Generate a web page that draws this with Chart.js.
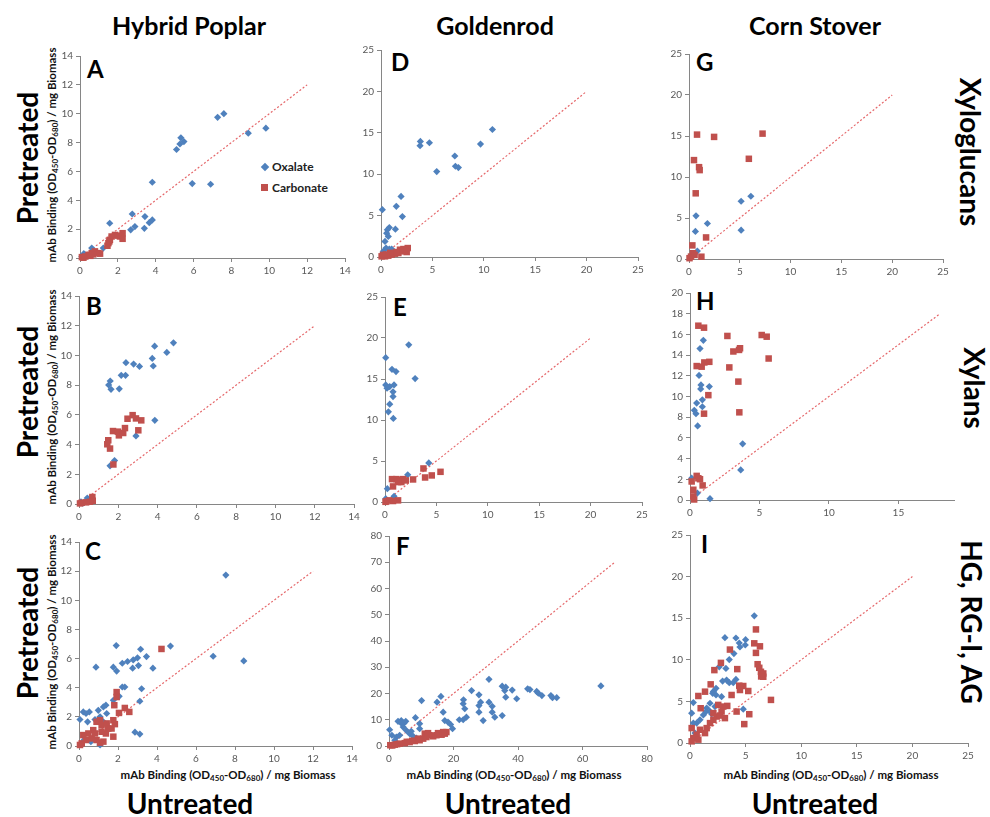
<!DOCTYPE html>
<html>
<head>
<meta charset="utf-8">
<script src="https://cdn.jsdelivr.net/npm/chart.js@4.4.1/dist/chart.umd.min.js"></script>
<style>
  body { margin: 0; background: #fff; }
  #page { position: relative; width: 990px; height: 817px; overflow: hidden; font-family: Lato, 'Open Sans', sans-serif; color: #000; }
  #page canvas { position: absolute; }
  .lbl { position: absolute; font-weight: bold; white-space: nowrap; transform: translate(-50%, -50%); line-height: 1; }
  .head { font-size: 25px; }
  .side { font-size: 28px; }
  .rotL { transform: translate(-50%, -50%) rotate(-90deg); }
  .rotR { transform: translate(-50%, -50%) rotate(90deg); }
  .axt { font-size: 11.5px; color: #111; }
  .axt sub { font-size: 8px; vertical-align: -2px; line-height: 0; }
  .letter { position: absolute; font-weight: bold; font-size: 24px; line-height: 1; }
  .leg { position: absolute; font-size: 12px; font-weight: bold; color: #222; line-height: 1; transform: translateY(-50%); }
  .mk { position: absolute; }
</style>
</head>
<body>
<div id="page">
  <div class="lbl head" style="left:189px; top:25px">Hybrid Poplar</div>
  <div class="lbl head" style="left:495px; top:25px">Goldenrod</div>
  <div class="lbl head" style="left:815px; top:25px">Corn Stover</div>

  <div class="lbl side rotL" style="left:27px; top:158px">Pretreated</div>
  <div class="lbl side rotL" style="left:27px; top:392px">Pretreated</div>
  <div class="lbl side rotL" style="left:27px; top:633px">Pretreated</div>

  <div class="lbl side" style="left:190px; top:803px">Untreated</div>
  <div class="lbl side" style="left:508px; top:803px">Untreated</div>
  <div class="lbl side" style="left:815px; top:803px">Untreated</div>

  <div class="lbl side rotR" style="left:971px; top:152px">Xyloglucans</div>
  <div class="lbl side rotR" style="left:975px; top:388px">Xylans</div>
  <div class="lbl side rotR" style="left:972px; top:622px">HG, RG-I, AG</div>

  <div class="lbl axt rotL" style="left:52px; top:155px">mAb Binding (OD<sub>450</sub>-OD<sub>680</sub>) / mg Biomass</div>
  <div class="lbl axt rotL" style="left:52px; top:397px">mAb Binding (OD<sub>450</sub>-OD<sub>680</sub>) / mg Biomass</div>
  <div class="lbl axt rotL" style="left:52px; top:642px">mAb Binding (OD<sub>450</sub>-OD<sub>680</sub>) / mg Biomass</div>

  <div class="lbl axt" style="left:228px; top:775px">mAb Binding (OD<sub>450</sub>-OD<sub>680</sub>) / mg Biomass</div>
  <div class="lbl axt" style="left:514px; top:775px">mAb Binding (OD<sub>450</sub>-OD<sub>680</sub>) / mg Biomass</div>
  <div class="lbl axt" style="left:831px; top:775px">mAb Binding (OD<sub>450</sub>-OD<sub>680</sub>) / mg Biomass</div>

  <div class="letter" style="left:87px; top:57px">A</div>
  <div class="letter" style="left:86px; top:294px">B</div>
  <div class="letter" style="left:85px; top:539px">C</div>
  <div class="letter" style="left:391px; top:50px">D</div>
  <div class="letter" style="left:393px; top:295px">E</div>
  <div class="letter" style="left:396px; top:534px">F</div>
  <div class="letter" style="left:696px; top:50px">G</div>
  <div class="letter" style="left:696px; top:289px">H</div>
  <div class="letter" style="left:701px; top:532px">I</div>

  <div class="mk" style="left:262px; top:164px; width:6px; height:6px; background:#4F81BD; transform:rotate(45deg)"></div>
  <div class="leg" style="left:272px; top:167px">Oxalate</div>
  <div class="mk" style="left:261px; top:184px; width:7px; height:7px; background:#C0504D"></div>
  <div class="leg" style="left:272px; top:188px">Carbonate</div>
</div>
<script>
// Hybrid Poplar
const oxalateA = [[7.27,9.75],[7.6,10.0],[8.89,8.65],[9.82,9.0],[5.1,7.52],[5.28,7.9],[5.33,8.33],[5.49,8.07],
  [5.93,5.16],[6.9,5.11],[3.82,5.25],[1.57,2.41],[2.76,3.05],[2.9,2.18],[2.68,1.95],[3.43,2.87],[3.4,2.06],
  [3.66,2.45],[3.82,2.64],[1.23,0.69],[0.62,0.69],[0.2,0.3],[0.3,0.2],[0.45,0.15],[0.1,0.1]]
const carbonateA = [[1.58,1.26],[1.5,1.03],[1.85,1.6],[2.11,1.49],[2.25,1.72],[2.25,1.33],[1.67,1.49],[1.45,0.85],
  [0.79,0.46],[0.97,0.34],[1.06,0.3],[0.62,0.34],[0.45,0.22],[0.27,0.1],[0.1,0.06],[0.18,0.02],[0.55,0.15],
  [0.7,0.25],[2.0,1.55],[1.55,1.15]]
const oxalateB = [[4.81,10.85],[3.85,10.62],[4.47,10.2],[3.73,9.8],[3.78,9.29],[2.39,9.51],[2.78,9.42],[3.08,9.26],
  [2.15,8.66],[2.37,8.66],[1.59,8.28],[1.51,8.01],[1.63,7.72],[2.05,7.75],[3.86,5.63],[2.9,4.58],[1.81,2.92],
  [1.58,2.57],[0.42,0.4],[0.1,0.15],[0.2,0.05]]
const carbonateB = [[1.49,4.29],[1.44,4.02],[1.58,3.73],[1.73,4.91],[1.98,4.87],[2.03,4.62],[2.25,4.78],[2.34,5.11],
  [2.47,5.74],[2.73,5.98],[2.9,5.76],[3.17,5.63],[3.02,4.96],[1.75,2.66],[0.68,0.47],[0.7,0.22],[0.56,0.15],
  [0.36,0.11],[0.14,0.09],[0.05,0.04]]
const oxalateC = [[7.53,11.73],[1.91,6.89],[4.69,6.86],[3.16,6.64],[6.88,6.16],[8.45,5.84],[3.46,6.14],[3.0,6.05],
  [2.78,5.91],[2.49,5.8],[2.22,5.68],[1.76,5.41],[1.93,5.14],[0.87,5.41],[3.05,5.52],[2.75,5.34],[3.79,5.34],
  [2.22,4.05],[2.35,4.05],[3.21,3.93],[2.06,3.41],[1.76,3.14],[3.12,3.07],[1.38,2.8],[1.25,2.68],[0.99,2.45],
  [0.53,2.34],[0.22,2.34],[0.36,2.23],[0.05,1.82],[0.44,1.66],[0.82,1.82],[1.25,1.66],[2.87,0.95],[3.12,0.82],
  [1.08,0.07],[0.61,0.3],[0.25,0.4],[1.42,2.23],[1.08,2.0]]
const carbonateC = [[4.23,6.66],[1.93,3.7],[1.93,3.36],[1.81,2.8],[2.05,2.27],[2.35,2.61],[2.58,2.34],[1.76,1.77],
  [1.84,1.5],[1.67,1.2],[1.76,0.64],[1.38,0.86],[1.08,1.77],[0.9,1.66],[1.16,1.43],[1.42,1.55],[0.73,1.09],
  [0.48,0.86],[0.22,0.75],[0.36,0.41],[0.65,0.52],[0.9,0.41],[1.08,0.23],[1.25,0.3],[0.14,0.18],[0.05,0.07],
  [0.82,0.86],[1.16,0.98],[1.5,1.2]]

// Goldenrod
const oxalateD = [[10.84,15.4],[3.83,13.96],[3.8,13.44],[4.71,13.8],[9.68,13.64],[7.18,12.2],[7.24,10.96],[7.53,10.8],
  [5.42,10.32],[1.95,7.32],[1.49,6.12],[2.08,4.88],[0.13,5.72],[0.81,3.56],[0.62,3.28],[1.4,3.36],[0.55,2.88],
  [0.71,2.48],[0.39,1.88],[0.49,1.08],[0.81,0.96],[1.04,0.96],[0.23,0.68]]
const carbonateD = [[2.6,1.08],[2.34,0.8],[2.01,0.68],[1.69,0.48],[1.36,0.4],[1.04,0.28],[0.71,0.16],[0.39,0.08],
  [0.06,0.08],[0.2,0.25],[2.5,0.6],[2.18,0.96],[1.85,0.88],[1.5,0.6],[0.9,0.5],[0.5,0.3]]
const oxalateE = [[2.31,19.17],[0.07,17.6],[0.68,16.18],[1.07,15.9],[2.93,15.05],[0.07,14.28],[0.88,14.28],[0.46,14.08],
  [0.2,13.88],[0.78,13.43],[0.78,12.86],[0.46,11.93],[0.33,11.0],[0.81,10.19],[4.26,4.77],[2.21,3.32],[0.23,1.62],
  [0.88,0.69],[0.07,0.4]]
const carbonateE = [[3.74,4.09],[5.4,3.68],[4.55,3.24],[3.9,2.99],[2.73,2.75],[0.78,1.9],[0.68,2.79],[1.1,2.79],
  [1.43,2.71],[1.76,2.79],[1.59,2.43],[2.02,2.63],[1.27,2.43],[1.27,0.2],[0.78,0.12],[0.4,0.2],[0.14,0.08],[0.05,0.02]]
const oxalateF = [[65.7,22.9],[31.0,25.4],[35.1,22.8],[36.2,22.4],[35.9,21.1],[38.2,21.3],[43.0,21.8],[43.7,21.5],
  [45.8,20.8],[46.3,20.1],[47.4,19.2],[50.2,19.2],[50.7,18.4],[52.0,18.4],[39.6,18.0],[36.2,18.6],[31.0,16.7],
  [32.0,15.1],[27.9,19.5],[28.4,16.7],[27.9,15.4],[27.9,12.9],[25.6,21.1],[23.1,17.6],[23.0,16.1],[23.5,14.2],
  [24.0,11.0],[23.0,10.0],[21.8,10.0],[29.2,9.7],[32.0,12.9],[32.8,11.0],[35.1,11.6],[16.1,18.9],[14.9,16.7],
  [16.8,12.9],[17.3,9.7],[18.3,9.1],[19.1,8.2],[19.7,6.6],[10.1,17.3],[8.2,10.8],[9.5,8.5],[9.5,6.6],[6.9,5.6],
  [2.8,9.4],[3.8,9.7],[4.6,8.7],[5.2,9.4],[3.8,8.7],[4.4,7.2],[5.4,5.9],[0.2,6.2],[0.9,4.1],[2.3,3.4],[3.3,4.1],
  [6.4,4.7],[7.5,3.7],[1.8,2.2],[8.5,3.0]]
const carbonateF = [[17.8,5.3],[17.3,4.7],[16.3,4.3],[14.7,4.1],[13.7,3.7],[12.6,4.1],[11.6,3.4],[10.6,2.8],[9.5,2.2],
  [8.0,1.9],[6.4,1.5],[4.9,1.1],[3.3,0.9],[1.8,0.5],[0.4,0.3],[11.1,4.7],[12.1,4.9],[15.2,4.9],[16.8,5.3],
  [9.0,2.8],[7.2,2.0],[5.5,1.6],[2.5,0.7],[1.0,0.2]]

// Corn Stover
const oxalateG = [[6.09,7.65],[5.13,7.04],[5.13,3.52],[0.69,5.26],[0.63,3.36],[1.81,4.33],[0.82,0.97],[0.2,0.3]]
const carbonateG = [[7.24,15.29],[0.79,15.17],[2.47,14.89],[5.89,12.22],[0.49,12.06],[0.99,11.2],[1.05,10.84],
  [0.66,8.01],[1.68,2.63],[0.33,1.66],[1.22,0.28],[0.4,0.7],[0.2,0.3],[0.05,0.1],[0.55,0.5]]
const oxalateH = [[0.96,15.43],[0.72,14.63],[0.65,12.04],[0.79,11.12],[0.77,10.73],[1.39,10.96],[0.89,9.68],
  [0.48,9.36],[0.89,9.01],[0.31,8.66],[0.43,8.34],[0.55,7.16],[3.79,5.43],[3.65,2.91],[1.44,0.13],[0.12,2.11],
  [0.53,0.67]]
const carbonateH = [[0.6,16.84],[1.01,16.65],[2.69,15.85],[5.16,15.94],[5.52,15.78],[3.6,14.66],[3.12,14.35],
  [3.53,14.5],[5.66,13.67],[0.48,12.94],[0.84,12.88],[1.03,13.29],[1.39,13.35],[2.83,12.81],[3.48,11.44],
  [1.32,10.13],[1.01,8.34],[3.55,8.47],[0.48,2.33],[0.72,2.01],[0.12,1.79],[0.91,1.41],[0.24,0.99],[0.24,0.35],
  [0.3,0.05],[0.6,2.1]]
const oxalateI = [[5.78,15.29],[3.14,12.66],[4.13,12.62],[5.0,12.42],[4.43,12.02],[4.49,11.54],[4.97,11.78],
  [3.95,10.75],[3.53,10.03],[3.23,8.96],[2.63,9.16],[2.04,5.97],[3.29,7.56],[2.93,7.44],[3.53,7.25],[3.89,7.25],
  [4.13,7.64],[2.34,5.77],[2.34,6.57],[2.1,6.2],[1.8,4.78],[2.25,4.38],[1.44,3.78],[1.8,3.8],[1.2,3.38],[0.9,2.79],
  [0.6,2.39],[0.3,4.86],[0.15,3.58],[0.3,2.39],[4.79,4.06],[0.45,1.19],[1.5,4.2],[2.84,5.57],[1.95,3.5]]
const carbonateI = [[5.93,13.65],[6.29,11.62],[5.78,11.98],[5.93,10.83],[6.08,9.47],[6.23,9.04],[6.38,8.56],
  [6.59,8.36],[6.59,7.96],[6.4,8.0],[7.28,5.18],[3.59,11.23],[2.19,8.76],[2.78,9.63],[4.25,8.88],[1.86,7.05],
  [1.35,6.17],[0.75,5.65],[0.96,4.18],[3.74,5.77],[4.43,6.89],[4.79,6.85],[5.24,6.25],[4.49,6.37],[4.19,3.78],
  [4.88,2.27],[5.33,3.46],[2.54,4.58],[2.99,4.38],[3.35,4.46],[2.84,3.78],[2.4,3.18],[2.1,2.79],[1.8,2.39],
  [1.5,1.79],[1.35,1.19],[0.9,1.59],[0.6,1.0],[0.15,1.79],[0.3,0.6],[0.15,0.2],[0.75,0.4],[3.14,2.99],[2.7,3.3],
  [2.1,3.6]]

// axis ranges [xMax, xStep, yMax, yStep] and length of the y = x reference line
const axesA = [14, 2, 14, 2], diagA = 12
const axesB = [14, 2, 14, 2], diagB = 12
const axesC = [14, 2, 14, 2], diagC = 12
const axesD = [25, 5, 25, 5], diagD = 20
const axesE = [25, 5, 25, 5], diagE = 20
const axesF = [80, 20, 80, 10], diagF = 70
const axesG = [25, 5, 25, 5], diagG = 20
const axesH = [19, 5, 20, 2], diagH = 18
const axesI = [25, 5, 25, 5], diagI = 20

// plot boxes on the page: [left, top, right, bottom]
const panels = [
  { ox: oxalateA, ca: carbonateA, axes: axesA, diag: diagA, box: [80, 55, 345, 258] },
  { ox: oxalateB, ca: carbonateB, axes: axesB, diag: diagB, box: [79, 295, 354, 504] },
  { ox: oxalateC, ca: carbonateC, axes: axesC, diag: diagC, box: [79, 541, 352, 746] },
  { ox: oxalateD, ca: carbonateD, axes: axesD, diag: diagD, box: [381, 49, 638, 257] },
  { ox: oxalateE, ca: carbonateE, axes: axesE, diag: diagE, box: [385, 296, 642, 502] },
  { ox: oxalateF, ca: carbonateF, axes: axesF, diag: diagF, box: [389, 535, 647, 746] },
  { ox: oxalateG, ca: carbonateG, axes: axesG, diag: diagG, box: [689, 53, 943, 259] },
  { ox: oxalateH, ca: carbonateH, axes: axesH, diag: diagH, box: [690, 292, 954, 500] },
  { ox: oxalateI, ca: carbonateI, axes: axesI, diag: diagI, box: [690, 534, 968, 743] }
]

const padL = 30, padT = 8, padR = 14, padB = 20
const toPts = arr => arr.map(([x, y]) => ({ x, y }))

function axis(max, step, fit) {
  return {
    type: 'linear',
    min: 0,
    max: max,
    afterFit: fit,
    ticks: { stepSize: step, includeBounds: false, autoSkip: false, maxRotation: 0, padding: 3,
      color: '#595959', font: { family: 'Lato', size: 10 } },
    grid: { drawOnChartArea: false, drawTicks: true, tickLength: 4, color: '#868686' },
    border: { color: '#868686' }
  }
}

function makeChart(p) {
  const [left, top, right, bottom] = p.box
  const canvas = document.createElement('canvas')
  canvas.width = right - left + padL + padR
  canvas.height = bottom - top + padT + padB
  canvas.style.left = (left - padL) + 'px'
  canvas.style.top = (top - padT) + 'px'
  document.getElementById('page').appendChild(canvas)

  const [xMax, xStep, yMax, yStep] = p.axes
  new Chart(canvas, {
    type: 'scatter',
    data: {
      datasets: [
        { label: 'Carbonate', data: toPts(p.ca), pointStyle: 'rect', pointRadius: 4.6,
          backgroundColor: '#C0504D', borderColor: '#C0504D', borderWidth: 0, order: 0, clip: false },
        { label: 'Oxalate', data: toPts(p.ox), pointStyle: 'rectRot', pointRadius: 3.6,
          backgroundColor: '#4F81BD', borderColor: '#4F81BD', borderWidth: 0, order: 1, clip: false },
        { label: 'y = x', data: [{ x: 0, y: 0 }, { x: p.diag, y: p.diag }], showLine: true, pointRadius: 0,
          borderColor: '#E5676A', borderWidth: 1.2, borderDash: [2, 2], order: 2 }
      ]
    },
    options: {
      responsive: false,
      animation: false,
      devicePixelRatio: 1,
      layout: { padding: { top: padT, right: padR, left: 0, bottom: 0 } },
      plugins: { legend: { display: false }, tooltip: { enabled: false } },
      scales: {
        x: axis(xMax, xStep, s => { s.height = padB }),
        y: axis(yMax, yStep, s => { s.width = padL })
      }
    }
  })
}

panels.forEach(makeChart)
</script>
</body>
</html>
